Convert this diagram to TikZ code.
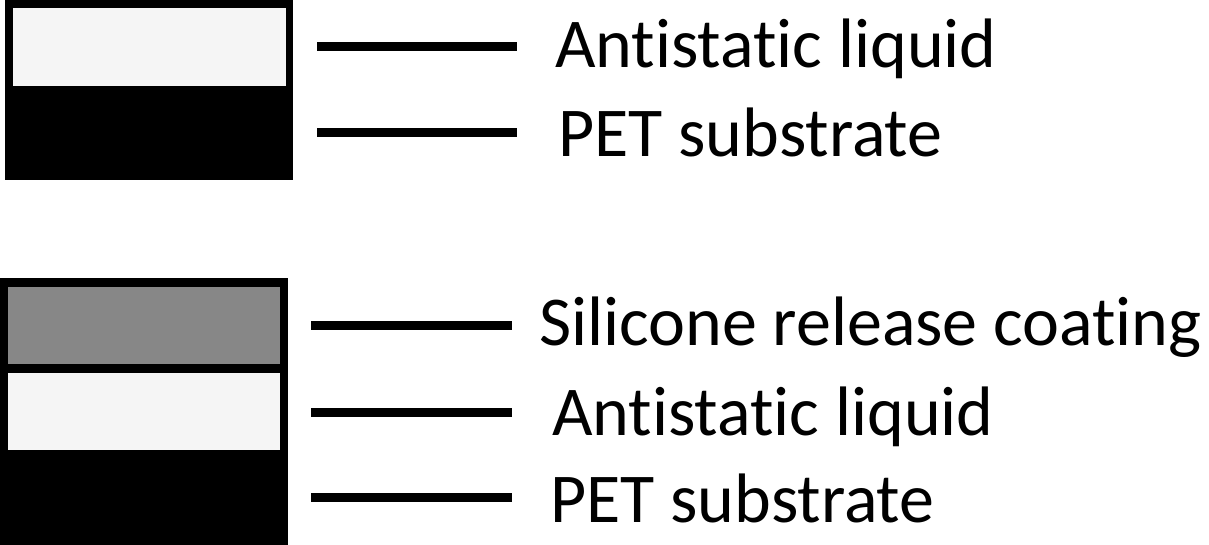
\documentclass[tikz,border=0pt]{standalone}
\usepackage{fontspec}
\setmainfont[Ligatures = NoCommon]{Carlito}
\usetikzlibrary{positioning}

\begin{document}
\begin{tikzpicture}[x = 1pt, y = -1pt,
  layer/.style = {shape = rectangle, draw = none, inner sep = 0pt, outer sep = 0pt},
  lead/.style = {line width = 9pt},
  tag/.style = {anchor = base west, inner sep = 0pt, font = \fontsize{70}{70}\selectfont}]
\useasboundingbox (0,0) rectangle (1209,545);
% upper film
\node[layer, fill = black, minimum width = 288pt, minimum height = 180pt] (1) at (149,90) {};
\node[layer, fill = black!4, minimum width = 273pt, minimum height = 78pt] (2) at (149.5,47) {};
% lower film
\node[layer, fill = black, minimum width = 288pt, minimum height = 267pt] (3) at (144,411.5) {};
\node[layer, fill = black!47, minimum width = 272pt, minimum height = 77pt] (4) at (144,325.5) {};
\node[layer, fill = black!4, minimum width = 272pt, minimum height = 77pt] (5) at (144,411.5) {};
% labels
\node[tag] (6) at (555,68) {Antistatic liquid};
\node[tag] (7) at (558,157) {PET substrate};
\node[tag] (8) at (539,345) {Silicone release coating};
\node[tag] (9) at (552,435) {Antistatic liquid};
\node[tag] (10) at (550,522) {PET substrate};
\coordinate (a6) at (317,47);  \coordinate (b6) at (517,47);
\coordinate (a7) at (317,133); \coordinate (b7) at (517,133);
\coordinate (a8) at (311,325); \coordinate (b8) at (512,325);
\coordinate (a9) at (311,412); \coordinate (b9) at (512,412);
\coordinate (a10) at (311,497); \coordinate (b10) at (512,497);
\foreach \n in {6,...,10}
  \draw[lead] (a\n) -- (b\n);
\end{tikzpicture}
\end{document}
